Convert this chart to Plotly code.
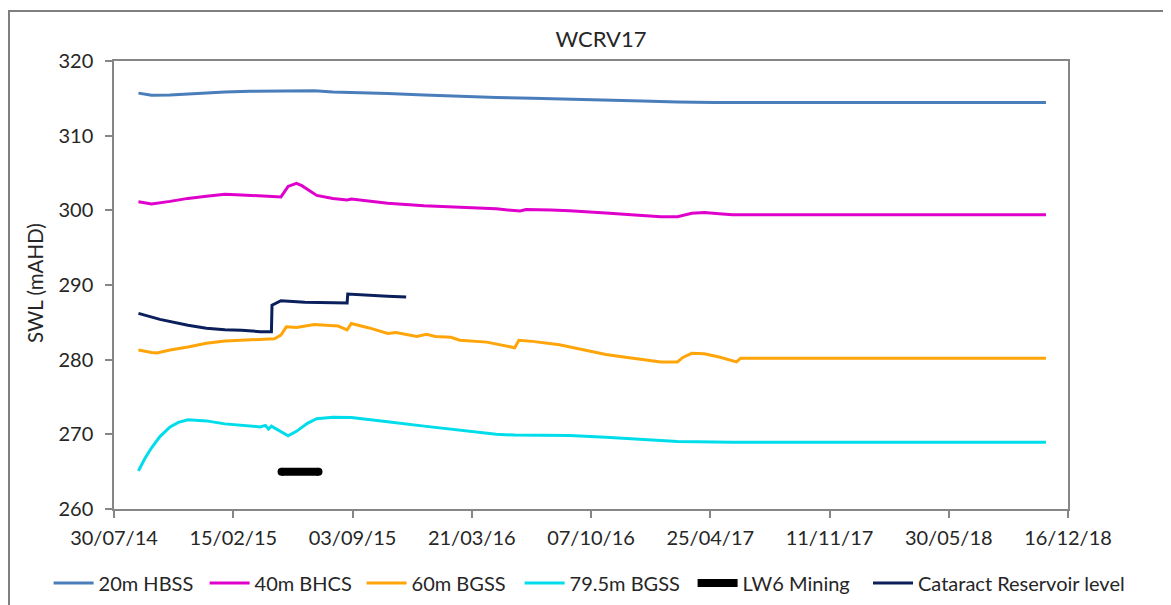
import plotly.graph_objects as go

# ---------------- data ----------------
dates_20m = ["2014-09-09", "2014-10-01", "2014-11-01", "2014-12-01", "2015-01-01", "2015-02-01",
             "2015-03-15", "2015-05-01", "2015-07-01", "2015-08-01", "2015-09-01", "2015-11-01",
             "2016-01-01", "2016-03-01", "2016-05-01", "2016-07-01", "2016-09-01", "2016-11-01",
             "2017-01-01", "2017-03-01", "2017-05-01", "2018-11-09"]
swl_20m = [315.7, 315.4, 315.45, 315.6, 315.75, 315.85,
           315.95, 316.0, 316.0, 315.85, 315.8, 315.65,
           315.45, 315.25, 315.1, 315.0, 314.9, 314.75,
           314.65, 314.5, 314.45, 314.45]

dates_40m = ["2014-09-09", "2014-10-01", "2014-11-01", "2014-12-01", "2015-01-01", "2015-02-01",
             "2015-03-01", "2015-04-15", "2015-05-06", "2015-05-18", "2015-06-01", "2015-06-10",
             "2015-06-20", "2015-07-05", "2015-08-01", "2015-08-25", "2015-09-01", "2015-10-01",
             "2015-11-01", "2016-01-01", "2016-03-01", "2016-05-01", "2016-06-10", "2016-06-20",
             "2016-08-01", "2016-09-01", "2016-11-01", "2016-12-01", "2017-01-01", "2017-02-01",
             "2017-03-01", "2017-03-25", "2017-04-15", "2017-05-10", "2017-06-01", "2018-11-09"]
swl_40m = [301.15, 300.85, 301.2, 301.6, 301.9, 302.15,
           302.05, 301.9, 301.8, 303.2, 303.6, 303.3,
           302.8, 302.0, 301.6, 301.4, 301.5, 301.2,
           300.95, 300.6, 300.4, 300.2, 299.9, 300.1,
           300.05, 299.95, 299.65, 299.45, 299.3, 299.15,
           299.15, 299.6, 299.7, 299.55, 299.4, 299.4]

dates_60m = ["2014-09-09", "2014-09-20", "2014-10-01", "2014-10-10", "2014-11-01", "2014-12-01",
             "2015-01-01", "2015-02-01", "2015-03-01", "2015-04-10", "2015-04-25", "2015-05-06",
             "2015-05-15", "2015-06-01", "2015-06-20", "2015-07-01", "2015-07-20", "2015-08-10",
             "2015-08-25", "2015-09-01", "2015-10-01", "2015-11-01", "2015-11-15", "2015-12-20",
             "2016-01-05", "2016-01-20", "2016-02-15", "2016-03-01", "2016-04-15", "2016-05-20",
             "2016-06-01", "2016-06-08", "2016-07-01", "2016-08-15", "2016-09-01", "2016-10-01",
             "2016-11-01", "2016-12-01", "2017-01-01", "2017-02-01", "2017-03-01", "2017-03-10",
             "2017-03-25", "2017-04-15", "2017-05-10", "2017-06-01", "2017-06-08", "2017-06-15",
             "2018-11-09"]
swl_60m = [281.3, 281.1, 280.95, 280.9, 281.3, 281.7,
           282.2, 282.5, 282.6, 282.7, 282.8, 283.3,
           284.4, 284.3, 284.5, 284.7, 284.6, 284.5,
           284.0, 284.85, 284.25, 283.5, 283.65, 283.1,
           283.4, 283.1, 283.0, 282.6, 282.35, 281.8,
           281.6, 282.6, 282.45, 282.0, 281.7, 281.2,
           280.7, 280.35, 280.0, 279.7, 279.7, 280.3,
           280.85, 280.8, 280.35, 279.85, 279.7, 280.2,
           280.2]

dates_79m = ["2014-09-09", "2014-09-20", "2014-10-01", "2014-10-15", "2014-11-01", "2014-11-15",
             "2014-12-01", "2015-01-01", "2015-02-01", "2015-03-01", "2015-04-01", "2015-04-10",
             "2015-04-15", "2015-04-20", "2015-05-06", "2015-05-18", "2015-06-01", "2015-06-20",
             "2015-07-05", "2015-08-01", "2015-09-01", "2015-10-01", "2015-11-01", "2016-01-01",
             "2016-03-01", "2016-05-01", "2016-06-01", "2016-09-01", "2016-11-01", "2017-01-01",
             "2017-03-01", "2017-06-01", "2018-11-09"]
swl_79m = [265.1, 266.8, 268.2, 269.7, 271.0, 271.6,
           271.95, 271.8, 271.4, 271.2, 271.0, 271.2,
           270.7, 271.1, 270.4, 269.8, 270.4, 271.5,
           272.1, 272.3, 272.25, 272.0, 271.7, 271.1,
           270.6, 270.0, 269.9, 269.85, 269.6, 269.3,
           269.05, 268.95, 268.95]

dates_lw6 = ["2015-05-07", "2015-07-08"]
swl_lw6 = [265.0, 265.0]

dates_res = ["2014-09-09", "2014-10-15", "2014-12-01", "2015-01-01", "2015-02-01", "2015-03-01",
             "2015-04-01", "2015-04-20", "2015-04-21", "2015-05-06", "2015-06-15", "2015-08-15",
             "2015-08-25", "2015-08-26", "2015-10-01", "2015-11-01", "2015-12-02"]
swl_res = [286.2, 285.4, 284.6, 284.2, 284.0, 283.95,
           283.75, 283.75, 287.3, 287.9, 287.7, 287.6,
           287.6, 288.8, 288.6, 288.5, 288.4]

series_names = ["20m HBSS", "40m BHCS", "60m BGSS", "79.5m BGSS", "LW6 Mining", "Cataract Reservoir level"]
series_colors = ["#4A7EBB", "#E000CC", "#FFA50A", "#00DDEA", "#000000", "#0A1F5C"]

x_start, x_end = "2014-07-30", "2018-12-16"
y_min, y_max = 260, 320
title_text = "WCRV17"
y_title = "SWL (mAHD)"

FONT = "Lato"
TXT = "#262626"

# the figure sits inside the page's 8px body margin
OFF = 8
W, H = 1171, 625
L, T = 106, 53
PW, PH = 954, 448


def px_x(sx):
    return (sx - OFF - L) / PW


def px_y(sy):
    return (T + PH - (sy - OFF)) / PH


leg_widths = [101, 102, 103, 118, None]

fig = go.Figure()
for i, (dts, vals) in enumerate([(dates_20m, swl_20m), (dates_40m, swl_40m),
                                 (dates_60m, swl_60m), (dates_79m, swl_79m)]):
    fig.add_trace(go.Scatter(x=dts, y=vals, name=series_names[i], mode="lines",
                             legend="legend", legendwidth=leg_widths[i],
                             line=dict(color=series_colors[i], width=3)))

fig.add_trace(go.Scatter(x=dates_lw6, y=swl_lw6, name=series_names[4], mode="lines+markers",
                         legend="legend",
                         line=dict(color=series_colors[4], width=8),
                         marker=dict(size=8, color=series_colors[4])))
fig.add_trace(go.Scatter(x=dates_res, y=swl_res, name=series_names[5], mode="lines",
                         legend="legend2",
                         line=dict(color=series_colors[5], width=3)))

legend_common = dict(orientation="h", yanchor="middle", y=px_y(583), xanchor="left",
                     font=dict(family=FONT, size=20, color=TXT), itemwidth=40,
                     bgcolor="rgba(0,0,0,0)")

fig.update_layout(
    width=W, height=H,
    margin=dict(l=L, r=W - L - PW, t=T, b=H - T - PH, pad=0),
    paper_bgcolor="white", plot_bgcolor="white",
    font=dict(family=FONT, color=TXT, size=19),
    title=dict(text=title_text, x=px_x(601), xref="paper", xanchor="center",
               y=1 - (39 - OFF) / H, yref="container", yanchor="middle",
               font=dict(family=FONT, size=22, color=TXT)),
    showlegend=True,
    legend=dict(x=px_x(48.6), **legend_common),
    legend2=dict(x=px_x(868), **legend_common),
    xaxis=dict(type="date", range=[x_start, x_end], tick0=x_start, dtick=200 * 86400000,
               tickformat="%d/%m/%y", showgrid=False, zeroline=False,
               showline=True, linecolor="#868686", linewidth=1.5, mirror=True,
               ticks="outside", ticklen=7, tickcolor="#868686", tickwidth=1.5,
               tickfont=dict(family=FONT, size=20, color=TXT), ticklabelstandoff=3),
    yaxis=dict(range=[y_min, y_max], dtick=10, showgrid=False, zeroline=False,
               showline=True, linecolor="#868686", linewidth=1.5, mirror=True,
               ticks="outside", ticklen=7, tickcolor="#868686", tickwidth=1.5,
               tickfont=dict(family=FONT, size=20, color=TXT), ticklabelstandoff=8),
    annotations=[dict(text=y_title, xref="paper", yref="paper", x=px_x(35),
                      y=px_y(283), textangle=-90, showarrow=False,
                      xanchor="center", yanchor="middle",
                      font=dict(family=FONT, size=20.5, color=TXT))],
    shapes=[dict(type="rect", xref="paper", yref="paper",
                 x0=px_x(9), x1=px_x(1200),
                 y0=px_y(660), y1=px_y(11),
                 line=dict(color="#7F7F7F", width=2), fillcolor="rgba(0,0,0,0)", layer="below")],
)

fig.write_html("out.html")
